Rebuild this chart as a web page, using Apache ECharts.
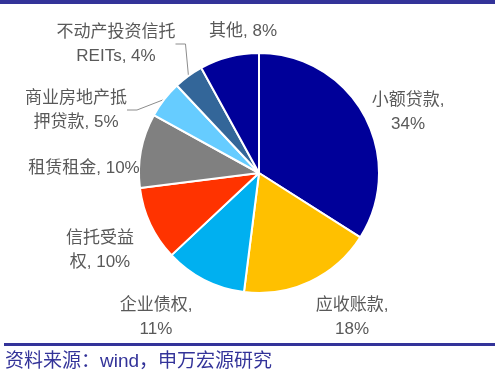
<!DOCTYPE html>
<html>
<head>
<meta charset="utf-8">
<script src="https://cdn.jsdelivr.net/npm/echarts@6/dist/echarts.min.js"></script>
<style>
  html, body { margin: 0; padding: 0; background: #fff; }
  #chart { width: 495px; height: 379px; }
</style>
</head>
<body>
<div id="chart"></div>
<script>
// data, clockwise from 12 o'clock
const categories = ["小额贷款", "应收账款", "企业债权", "信托受益权", "租赁租金", "商业房地产抵押贷款", "不动产投资信托REITs", "其他"];
const shares = [34, 18, 11, 10, 10, 5, 4, 8];
const labelTexts = [
  "小额贷款,\n34%",
  "应收账款,\n18%",
  "企业债权,\n11%",
  "信托受益\n权, 10%",
  "租赁租金, 10%",
  "商业房地产抵\n押贷款, 5%",
  "不动产投资信托\nREITs, 4%",
  "其他, 8%"
];

const COLORS = ["#000099", "#FFC000", "#00B0F0", "#FF3300", "#808080", "#66CCFF", "#336699", "#000099"];
// label centres (px)
const LABEL_POS = [[408, 112], [352, 317], [156, 317], [100, 250], [84, 168], [76, 110], [116, 44], [243, 31]];
const WITH_LINE = [5, 6];

const chart = echarts.init(document.getElementById("chart"));

const data = categories.map((c, i) => ({
  name: c,
  value: shares[i],
  itemStyle: { color: COLORS[i] },
  label: { formatter: labelTexts[i] },
  labelLine: { show: WITH_LINE.includes(i) }
}));

chart.setOption({
  animation: false,
  graphic: [
    { type: "rect", shape: { x: 0, y: 0, width: 495, height: 4 }, style: { fill: "#333399" } },
    { type: "rect", shape: { x: 4, y: 343, width: 491, height: 3 }, style: { fill: "#333399" } },
    {
      type: "text",
      left: 5,
      top: 352,
      style: {
        text: "资料来源：wind，申万宏源研究",
        fill: "#333399",
        font: '19px "Liberation Sans", "Noto Sans CJK SC"'
      }
    }
  ],
  series: [
    {
      type: "pie",
      center: [259, 173],
      radius: ["0%", 120],
      startAngle: 90,
      clockwise: true,
      itemStyle: { borderColor: "#fff", borderWidth: 2 },
      label: {
        show: true,
        position: "outside",
        overflow: "none",
        color: "#595959",
        fontSize: 17,
        lineHeight: 24,
        fontFamily: '"Liberation Sans", "Noto Sans CJK SC"',
        align: "center"
      },
      labelLine: {
        lineStyle: { color: "#8c8c8c", width: 1 },
        length: 10,
        length2: 10
      },
      labelLayout: (p) => ({
        x: LABEL_POS[p.dataIndex][0],
        y: LABEL_POS[p.dataIndex][1],
        align: "center",
        verticalAlign: "middle"
      }),
      data: data
    }
  ]
});
</script>
</body>
</html>
